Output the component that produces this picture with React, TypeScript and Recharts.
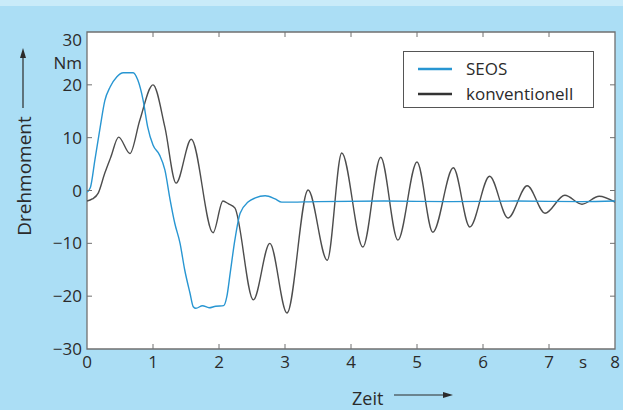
import React from "react";
import { LineChart, Line, XAxis, YAxis, ReferenceArea } from "recharts";

// SEOS: Zeit in s / Drehmoment in Nm
const seosTime = [0, 0.05, 0.12, 0.2, 0.27, 0.35, 0.45, 0.55, 0.7, 0.77, 0.85, 0.92, 1.0, 1.1, 1.18, 1.26, 1.33, 1.41, 1.48, 1.56, 1.61, 1.65, 1.75, 1.85, 1.95, 2.07, 2.12, 2.17, 2.24, 2.32, 2.44, 2.55, 2.7, 2.85, 2.95, 3.5, 4.5, 5.5, 6.5, 7.5, 8.0];
const seosTorque = [-0.3, 0.5, 5.8, 12.0, 17.0, 19.6, 21.5, 22.3, 22.3, 20.9, 17.1, 12.0, 8.6, 6.7, 3.9, -1.8, -6.2, -10.0, -15.0, -19.4, -22.0, -22.3, -21.8, -22.2, -21.9, -21.8, -20.0, -15.6, -9.4, -4.3, -2.2, -1.4, -1.0, -1.6, -2.2, -2.1, -2.0, -2.1, -2.0, -2.1, -2.0];

// konventionell
const konvTime = [0, 0.08, 0.17, 0.27, 0.36, 0.48, 0.65, 0.8, 1.0, 1.18, 1.35, 1.58, 1.91, 2.06, 2.14, 2.24, 2.52, 2.77, 3.03, 3.35, 3.64, 3.86, 4.18, 4.45, 4.71, 5.0, 5.24, 5.55, 5.8, 6.1, 6.38, 6.67, 6.94, 7.24, 7.5, 7.76, 8.0];
const konvTorque = [-2.0, -1.6, -0.5, 3.3, 6.3, 10.1, 7.0, 13.3, 20.0, 12.0, 1.4, 9.7, -8.0, -2.0, -2.5, -3.3, -20.7, -10.0, -23.2, 0.1, -13.2, 7.1, -10.7, 6.3, -9.4, 5.4, -7.9, 4.3, -6.9, 2.7, -5.2, 0.9, -4.3, -0.9, -2.6, -1.1, -2.2];

const xTicks = [0, 1, 2, 3, 4, 5, 6, 7, 8];
const yTicks = [-30, -20, -10, 0, 10, 20, 30];

const seosData = seosTime.map((t, i) => ({ t, v: seosTorque[i] }));
const konvData = konvTime.map((t, i) => ({ t, v: konvTorque[i] }));

const W = 623;
const H = 410;
const PLOT = { left: 87, top: 32, right: 615, bottom: 349 };
const FONT = '"Open Sans", sans-serif';
const TEXT = "#2b2b2b";
const AXIS = "#707070";
const BLUE = "#2896d2";
const GREY = "#4d4d4d";

const fmt = (v: number) => (v < 0 ? "\u2212" + Math.abs(v) : String(v));

function XTick({ x, payload }: any) {
  const v = payload.value;
  const edge = v === 0 || v === 8;
  return (
    <g>
      {!edge && <line x1={x} x2={x} y1={PLOT.bottom} y2={PLOT.bottom - 5} stroke={AXIS} />}
      {!edge && <line x1={x} x2={x} y1={PLOT.top} y2={PLOT.top + 5} stroke={AXIS} />}
      <text x={x} y={PLOT.bottom + 19} textAnchor="middle" fontFamily={FONT} fontSize={17} fill={TEXT}>
        {v}
      </text>
    </g>
  );
}

function YTick({ y, payload }: any) {
  const v = payload.value;
  const edge = v === 30 || v === -30;
  const dy = v === 30 ? 14 : 6;
  return (
    <g>
      {!edge && <line x1={PLOT.left} x2={PLOT.left + 5} y1={y} y2={y} stroke={AXIS} />}
      {!edge && <line x1={PLOT.right} x2={PLOT.right - 5} y1={y} y2={y} stroke={AXIS} />}
      <text x={PLOT.left - 5} y={y + dy} textAnchor="end" fontFamily={FONT} fontSize={17} fill={TEXT}>
        {fmt(v)}
      </text>
    </g>
  );
}

export default function App() {
  return (
    <div style={{ position: "absolute", left: 0, top: 0, width: W, height: H, background: "#abdef5", overflow: "hidden" }}>
      <div style={{ position: "absolute", left: 0, top: 0, width: W, height: 6, background: "#c9ebf9" }} />
      <div
        style={{
          position: "absolute",
          left: PLOT.left,
          top: PLOT.top,
          width: PLOT.right - PLOT.left,
          height: PLOT.bottom - PLOT.top,
          background: "#fff",
        }}
      />
      <div style={{ position: "absolute", left: 0, top: 0 }}>
        <LineChart width={W} height={H} margin={{ top: 32, right: 8, bottom: 31, left: 0 }}>
          <XAxis
            dataKey="t"
            type="number"
            domain={[0, 8]}
            ticks={xTicks}
            height={30}
            tickSize={0}
            tickMargin={0}
            axisLine={false}
            tickLine={false}
            tick={<XTick />}
            allowDataOverflow
          />
          <YAxis
            type="number"
            domain={[-30, 30]}
            ticks={yTicks}
            width={87}
            tickSize={0}
            tickMargin={0}
            axisLine={false}
            tickLine={false}
            tick={<YTick />}
            allowDataOverflow
          />
          <ReferenceArea x1={0} x2={8} y1={-30} y2={30} fill="none" fillOpacity={0} stroke={AXIS} strokeWidth={1.3} />
          <Line data={konvData} dataKey="v" type="monotone" stroke={GREY} strokeWidth={1.4} dot={false} isAnimationActive={false} />
          <Line data={seosData} dataKey="v" type="monotone" stroke={BLUE} strokeWidth={1.4} dot={false} isAnimationActive={false} />
        </LineChart>
      </div>
      <svg width={W} height={H} style={{ position: "absolute", left: 0, top: 0, pointerEvents: "none" }}>
        <g fontFamily={FONT} fill={TEXT}>
          <text x={82} y={69} textAnchor="end" fontSize={17}>Nm</text>
          <text x={583} y={368} textAnchor="middle" fontSize={17}>s</text>
          <text x={24} y={176} transform="rotate(-90 24 176)" textAnchor="middle" dominantBaseline="central" fontSize={19}>
            Drehmoment
          </text>
          <line x1={23} y1={108} x2={23} y2={56} stroke={TEXT} strokeWidth={1.2} />
          <polygon points="23,48 20,58 26,58" fill={TEXT} />
          <text x={352} y={405} fontSize={18}>Zeit</text>
          <line x1={394} y1={395} x2={445} y2={395} stroke={TEXT} strokeWidth={1.2} />
          <polygon points="453,395 443,392 443,398" fill={TEXT} />
        </g>
        <g>
          <rect x={403.5} y={51.5} width={190} height={56} fill="#fff" stroke="#555" strokeWidth={1} />
          <line x1={418} x2={452} y1={69} y2={69} stroke={BLUE} strokeWidth={2.6} />
          <line x1={418} x2={452} y1={94} y2={94} stroke="#333" strokeWidth={2.6} />
          <text x={466} y={75} fontFamily={FONT} fontSize={17} fill={TEXT}>SEOS</text>
          <text x={466} y={100} fontFamily={FONT} fontSize={17} fill={TEXT}>konventionell</text>
        </g>
      </svg>
    </div>
  );
}
